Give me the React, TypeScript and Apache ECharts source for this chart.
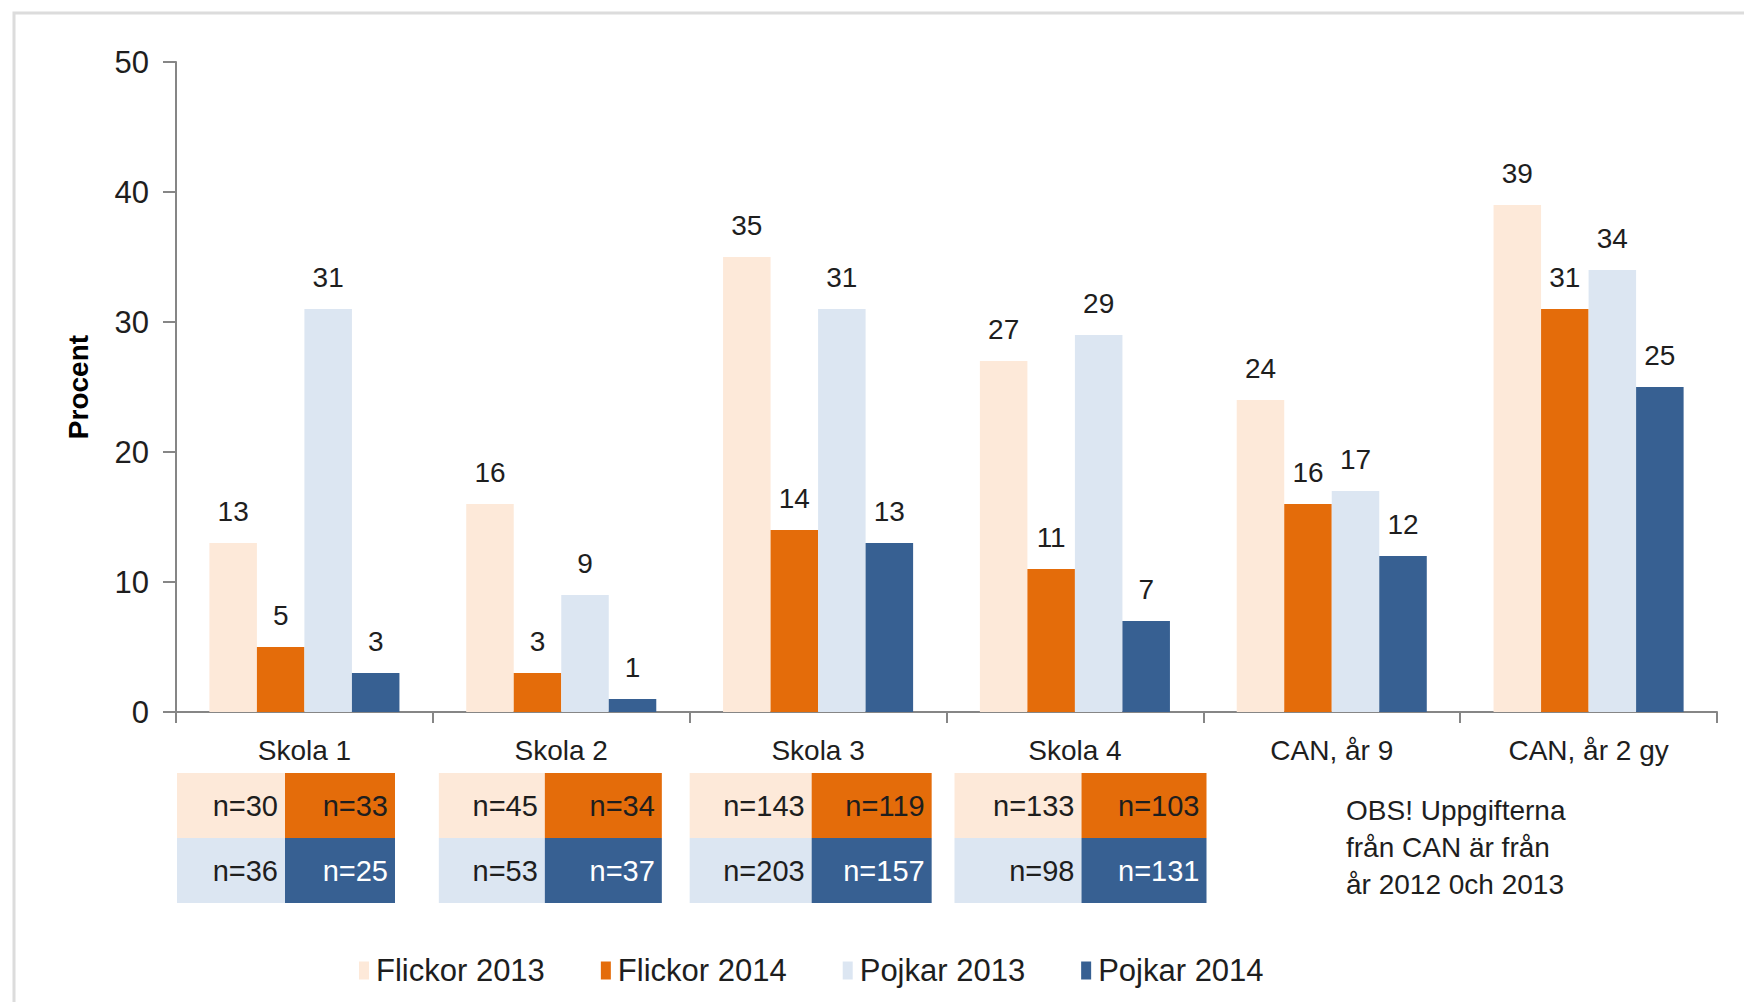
import React, { useEffect, useRef } from "react";
import * as echarts from "echarts";

const categories = ["Skola 1", "Skola 2", "Skola 3", "Skola 4", "CAN, år 9", "CAN, år 2 gy"];
const seriesNames = ["Flickor 2013", "Flickor 2014", "Pojkar 2013", "Pojkar 2014"];
const flickor2013 = [13, 16, 35, 27, 24, 39];
const flickor2014 = [5, 3, 14, 11, 16, 31];
const pojkar2013 = [31, 9, 31, 29, 17, 34];
const pojkar2014 = [3, 1, 13, 7, 12, 25];

const nFlickor2013 = ["n=30", "n=45", "n=143", "n=133"];
const nFlickor2014 = ["n=33", "n=34", "n=119", "n=103"];
const nPojkar2013 = ["n=36", "n=53", "n=203", "n=98"];
const nPojkar2014 = ["n=25", "n=37", "n=157", "n=131"];

const noteLines = ["OBS! Uppgifterna", "från CAN är från", "år 2012 0ch 2013"];

const colors = ["#FDE9D9", "#E46C0A", "#DCE6F2", "#376092"];
const FONT = "'Liberation Sans', Arial, Helvetica, sans-serif";
const TEXT = "#1e1e1e";

export default function App() {
  const ref = useRef<HTMLDivElement>(null);

  useEffect(() => {
    if (!ref.current) return;
    const chart = echarts.init(ref.current, null, { renderer: "svg" });

    const gridLeft = 176;
    const gridRight = 1717;
    const gridTop = 62;
    const gridBottom = 712;
    const catW = (gridRight - gridLeft) / categories.length;

    // table geometry (per school): offset from category start, left cell width, total width
    const tblOffset = [1, 6, 0, 8];
    const tblSplit = [108, 106, 122, 127];
    const tblWidth = [218, 223, 242, 252];
    const rowTop = 773;
    const rowH = 65;

    const graphics: any[] = [
      {
        type: "rect",
        shape: { x: 14, y: 13, width: 1800, height: 1100 },
        style: { fill: "none", stroke: "#dcdcdc", lineWidth: 3 },
        silent: true,
      },
    ];

    nFlickor2013.forEach((_, i) => {
      const x0 = gridLeft + i * catW + tblOffset[i];
      const xs = x0 + tblSplit[i];
      const x1 = x0 + tblWidth[i];
      const cells = [
        { x: x0, y: rowTop, w: xs - x0, fill: colors[0], text: nFlickor2013[i], tc: TEXT },
        { x: xs, y: rowTop, w: x1 - xs, fill: colors[1], text: nFlickor2014[i], tc: TEXT },
        { x: x0, y: rowTop + rowH, w: xs - x0, fill: colors[2], text: nPojkar2013[i], tc: TEXT },
        { x: xs, y: rowTop + rowH, w: x1 - xs, fill: colors[3], text: nPojkar2014[i], tc: "#ffffff" },
      ];
      cells.forEach((c) => {
        graphics.push({
          type: "rect",
          shape: { x: c.x, y: c.y, width: c.w, height: rowH },
          style: { fill: c.fill },
          silent: true,
        });
        graphics.push({
          type: "text",
          x: c.x + c.w - 7,
          y: c.y + rowH / 2,
          style: {
            text: c.text,
            fill: c.tc,
            font: `29px ${FONT}`,
            align: "right",
            verticalAlign: "middle",
          },
          silent: true,
        });
      });
    });

    noteLines.forEach((t, i) => {
      graphics.push({
        type: "text",
        x: 1346,
        y: 810 + i * 37,
        style: { text: t, fill: TEXT, font: `28px ${FONT}`, align: "left", verticalAlign: "middle" },
        silent: true,
      });
    });

    const mkSeries = (name: string, data: number[], color: string) => ({
      name,
      type: "bar",
      data,
      barGap: "0%",
      barCategoryGap: "26%",
      itemStyle: { color },
      label: {
        show: true,
        position: "top",
        distance: 18,
        color: TEXT,
        fontSize: 28,
        fontFamily: FONT,
      },
    });

    chart.setOption({
      animation: false,
      backgroundColor: "#ffffff",
      grid: {
        left: gridLeft,
        top: gridTop,
        width: gridRight - gridLeft,
        height: gridBottom - gridTop,
        containLabel: false,
      },
      legend: {
        data: seriesNames,
        left: 354,
        top: 950,
        itemWidth: 10,
        itemHeight: 18,
        itemGap: 56,
        icon: "rect",
        textStyle: { color: TEXT, fontSize: 31, fontFamily: FONT, padding: [0, 0, 0, 2] },
      },
      xAxis: {
        type: "category",
        data: categories,
        axisLine: { lineStyle: { color: "#868686", width: 2 } },
        axisTick: { show: true, length: 11, lineStyle: { color: "#868686", width: 2 } },
        axisLabel: { color: TEXT, fontSize: 28, fontFamily: FONT, margin: 24 },
      },
      yAxis: {
        type: "value",
        min: 0,
        max: 50,
        interval: 10,
        name: "Procent",
        nameLocation: "middle",
        nameGap: 84,
        nameTextStyle: { color: "#000", fontSize: 28, fontWeight: "bold", fontFamily: FONT },
        axisLine: { show: true, lineStyle: { color: "#868686", width: 2 } },
        axisTick: { show: true, length: 13, lineStyle: { color: "#868686", width: 2 } },
        splitLine: { show: false },
        axisLabel: { color: TEXT, fontSize: 31, fontFamily: FONT, margin: 27 },
      },
      series: [
        mkSeries(seriesNames[0], flickor2013, colors[0]),
        mkSeries(seriesNames[1], flickor2014, colors[1]),
        mkSeries(seriesNames[2], pojkar2013, colors[2]),
        mkSeries(seriesNames[3], pojkar2014, colors[3]),
      ],
      graphic: graphics,
    });

    return () => chart.dispose();
  }, []);

  return (
    <div
      ref={ref}
      style={{ position: "fixed", left: 0, top: 0, width: 1744, height: 1002, background: "#fff" }}
    />
  );
}
